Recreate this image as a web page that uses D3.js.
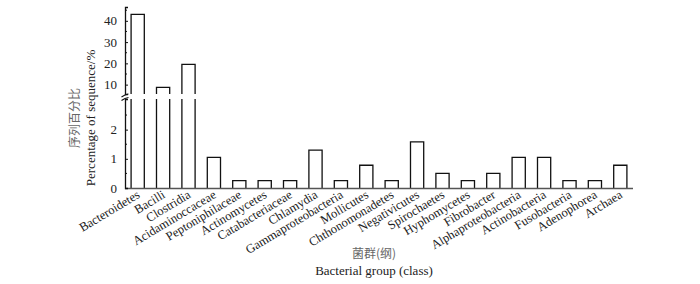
<!DOCTYPE html>
<html>
<head>
<meta charset="utf-8">
<script src="https://cdn.jsdelivr.net/npm/d3@7"></script>
<style>
  body { margin: 0; background: #fff; }
</style>
</head>
<body>
<svg id="chart" width="700" height="284"></svg>
<script>
const groups = ["Bacteroidetes", "Bacilli", "Clostridia", "Acidaminoccaceae", "Peptoniphilaceae",
  "Actinomycetes", "Catabacteriaceae", "Chlamydia", "Gammaproteobacteria", "Mollicutes",
  "Chthonomonadetes", "Negativicutes", "Spirochaetes", "Hyphomycetes", "Fibrobacter",
  "Alphaproteobacteria", "Actinobacteria", "Fusobacteria", "Adenophorea", "Archaea"];
const percent = [43, 8.7, 19.5, 1.05, 0.25, 0.25, 0.25, 1.3, 0.25, 0.78,
  0.25, 1.58, 0.5, 0.25, 0.5, 1.05, 1.05, 0.25, 0.25, 0.78];
const upperTicks = [10, 20, 30, 40];
const lowerTicks = [0, 1, 2];

const serif = "'Liberation Serif', 'DejaVu Serif', serif";
const svg = d3.select("#chart");

const x = d3.scaleBand().domain(groups).range([125, 633]).paddingInner(0.48).paddingOuter(0.24);
const yLow = d3.scaleLinear().domain([0, 3.05]).range([188, 99]);
const yHigh = d3.scaleLinear().domain([5.6, 46.5]).range([94, 7]);
const cut = 3.05;

// bars
const bars = svg.append("g").attr("fill", "#fff").attr("stroke", "#111").attr("stroke-width", 1.3);
groups.forEach((g, i) => {
  const v = percent[i];
  const x0 = x(g), x1 = x(g) + x.bandwidth();
  if (v <= cut) {
    bars.append("path").attr("d", `M${x0},${yLow(0)}V${yLow(v)}H${x1}V${yLow(0)}`);
  } else {
    bars.append("path").attr("d", `M${x0},${yLow(0)}V${yLow(cut)}M${x1},${yLow(cut)}V${yLow(0)}`);
    bars.append("path").attr("d", `M${x0},${yHigh.range()[0]}V${yHigh(v)}H${x1}V${yHigh.range()[0]}`);
  }
});

// x axis line
svg.append("line").attr("x1", 125).attr("x2", 633).attr("y1", 188.5).attr("y2", 188.5)
  .attr("stroke", "#555").attr("stroke-width", 1.6);

// y axes, ticks pointing inward
const axLow = svg.append("g").attr("transform", "translate(125,0)")
  .call(d3.axisRight(yLow).tickValues(lowerTicks).tickSize(3).tickFormat(d3.format("d")));
const axHigh = svg.append("g").attr("transform", "translate(125,0)")
  .call(d3.axisRight(yHigh).tickValues(upperTicks).tickSize(3).tickFormat(d3.format("d")));
[axLow, axHigh].forEach(ax => {
  ax.attr("font-family", serif);
  ax.select(".domain").attr("stroke", "#111").attr("stroke-width", 1.3);
  ax.selectAll(".tick line").attr("stroke", "#111");
  ax.selectAll(".tick text").attr("x", -8).attr("text-anchor", "end")
    .attr("font-size", 13).attr("font-family", serif).attr("fill", "#222");
});
// minor ticks
svg.append("g").selectAll("line").data([0.5, 1.5, 2.5]).join("line")
  .attr("x1", 125).attr("x2", 127).attr("y1", d => yLow(d)).attr("y2", d => yLow(d))
  .attr("stroke", "#111");
svg.append("g").selectAll("line").data([15, 25, 35, 45]).join("line")
  .attr("x1", 125).attr("x2", 127).attr("y1", d => yHigh(d)).attr("y2", d => yHigh(d))
  .attr("stroke", "#111");

// break marks
svg.append("g").attr("stroke", "#111").attr("stroke-width", 1.1).attr("fill", "none")
  .selectAll("path").data([95.5, 99]).join("path")
  .attr("d", d => `M121.5,${d + 1.5}Q125,${d - 1} 128.5,${d - 1.5}`);

// category labels
svg.append("g").selectAll("text").data(groups).join("text")
  .attr("transform", d => `translate(${x(d) + x.bandwidth() / 2 + 3},${197}) rotate(-31)`)
  .attr("text-anchor", "end").attr("font-size", 12.5).attr("fill", "#222")
  .attr("font-family", serif)
  .text(d => d);

// axis titles
svg.append("text").attr("transform", "translate(79,118) rotate(-90)")
  .attr("text-anchor", "middle").attr("font-size", 12).attr("fill", "#666")
  .attr("font-family", "'Noto Sans CJK SC'").text("序列百分比");
svg.append("text").attr("transform", "translate(95,118) rotate(-90)")
  .attr("text-anchor", "middle").attr("font-size", 13).attr("fill", "#222")
  .attr("font-family", serif).text("Percentage of sequence/%");
svg.append("text").attr("x", 374).attr("y", 258)
  .attr("text-anchor", "middle").attr("font-size", 12).attr("fill", "#666")
  .attr("font-family", "'Noto Sans CJK SC'").text("菌群(纲)");
svg.append("text").attr("x", 374).attr("y", 275)
  .attr("text-anchor", "middle").attr("font-size", 13).attr("fill", "#222")
  .attr("font-family", serif).text("Bacterial group (class)");
</script>
</body>
</html>
